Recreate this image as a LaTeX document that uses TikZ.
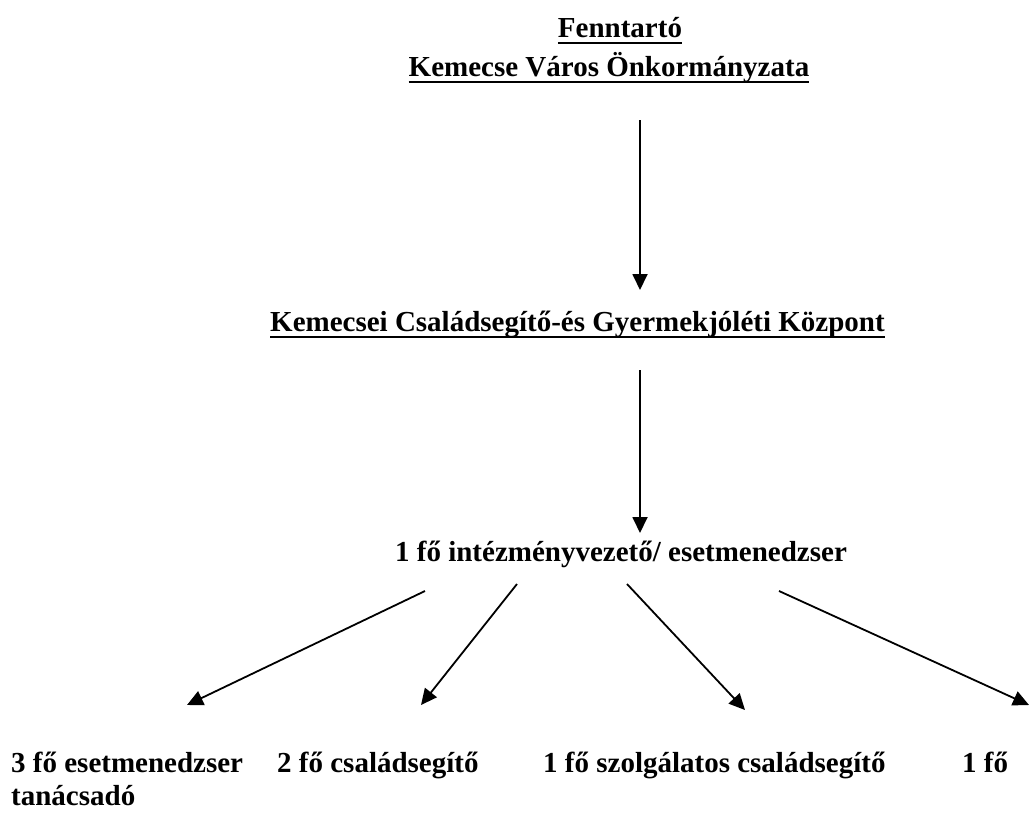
\documentclass[tikz,border=0pt]{standalone}
\usepackage{fontspec}
\setmainfont{Liberation Serif}
\usetikzlibrary{arrows.meta,positioning}
\definecolor{ink}{RGB}{0,0,0}
\tikzset{
  >={Triangle[length=16pt,width=15pt]},
  head/.style={font=\fontsize{29}{33}\selectfont\bfseries,text=ink,inner sep=0pt,anchor=base},
  staff/.style={font=\fontsize{29}{33}\selectfont\bfseries,text=ink,inner sep=0pt,anchor=base west},
  flow/.style={->,line width=1.8pt,draw=ink},
  uline/.style={line width=2.6pt,draw=ink},
}
\begin{document}
\begin{tikzpicture}[x=1pt,y=-1pt]
  \useasboundingbox (0,0) rectangle (1031,812);
  % headings
  \node[head] (fenntarto) at (620,37) {Fenntartó};
  \node[head] (onkorm) at (609,76) {Kemecse Város Önkormányzata};
  \node[head,anchor=base west] (kozpont) at (270,331) {Kemecsei Családsegítő-és Gyermekjóléti Központ};
  \node[staff,anchor=base] (vezeto) at (621,561) {1 fő intézményvezető/ esetmenedzser};
  % staff
  \node[staff] (esetm) at (11,772) {3 fő esetmenedzser};
  \node[staff] (tanacs) at (11,805) {tanácsadó};
  \node[staff] (csaladseg) at (277,772) {2 fő családsegítő};
  \node[staff] (szolg) at (543,772) {1 fő szolgálatos családsegítő};
  \node[staff] (egyeb) at (962,772) {1 fő};
  \foreach \n in {fenntarto,onkorm,kozpont}
    \draw[uline] ([yshift=-6pt]\n.base west) -- ([yshift=-6pt]\n.base east);
  % arrow ends
  \coordinate (a1) at (640,120);  \coordinate (b1) at (640,290);
  \coordinate (a2) at (640,370);  \coordinate (b2) at (640,533);
  \coordinate (s1) at (425,591);  \coordinate (t1) at (187,705);
  \coordinate (s2) at (517,584);  \coordinate (t2) at (421,705);
  \coordinate (s3) at (627,584);  \coordinate (t3) at (745,710);
  \coordinate (s4) at (779,591);  \coordinate (t4) at (1029,705);
  \draw[flow] (a1) -- (b1);
  \draw[flow] (a2) -- (b2);
  \foreach \i in {1,...,4}
    \draw[flow] (s\i) -- (t\i);
\end{tikzpicture}
\end{document}
